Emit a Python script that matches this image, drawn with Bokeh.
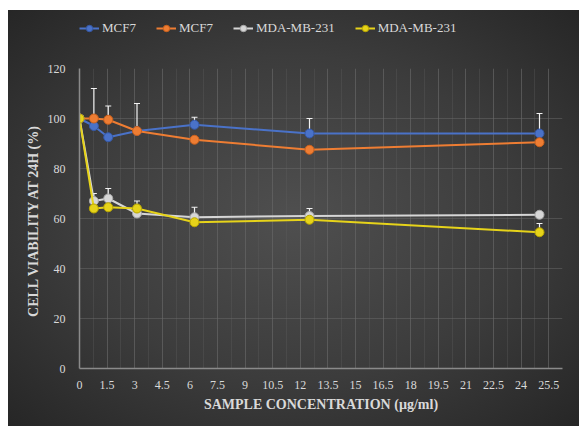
from bokeh.plotting import figure
from bokeh.layouts import column
from bokeh.models import (ColumnDataSource, Legend, LegendItem, Whisker, TeeHead,
                          FixedTicker, Range1d)
from bokeh.embed import file_html
from bokeh.resources import INLINE

# Sample concentrations (µg/ml)
conc = [0, 0.78125, 1.5625, 3.125, 6.25, 12.5, 25]

# Cell viability at 24 h (%)
mcf7_a = [100, 97, 92.5, 95, 97.5, 94, 94]
mcf7_b = [100, 100, 99.5, 95, 91.5, 87.5, 90.5]
mda_a = [100, 67, 68, 62, 60.5, 61, 61.5]
mda_b = [100, 64, 64.5, 64, 58.5, 59.5, 54.5]

# Upper error (plus bars)
mcf7_a_err = [0, 0, 0, 0, 3, 6, 8]
mcf7_b_err = [0, 12, 5.5, 11, 0, 0, 0]
mda_a_err = [0, 3, 4, 5, 4, 3, 0]
mda_b_err = [0, 0, 0, 0, 0, 0, 3.5]

x_ticks = [i * 1.5 for i in range(18)]
x_tick_labels = ["0", "1.5", "3", "4.5", "6", "7.5", "9", "10.5", "12", "13.5",
                 "15", "16.5", "18", "19.5", "21", "22.5", "24", "25.5"]
y_ticks = [0, 20, 40, 60, 80, 100, 120]

series = [
    ("MCF7", mcf7_a, mcf7_a_err, "#4a72c8", "#3458a8"),
    ("MCF7", mcf7_b, mcf7_b_err, "#ee7d33", "#c9601c"),
    ("MDA-MB-231", mda_a, mda_a_err, "#d6d6d6", "#a8a8a8"),
    ("MDA-MB-231", mda_b, mda_b_err, "#e6d31a", "#b8a600"),
]

FONT = "Liberation Serif"
TXT = "#d9d9d9"

def clear_fill(fig):
    fig.border_fill_alpha = 0
    fig.background_fill_alpha = 0
    fig.outline_line_color = None

# --- main chart ---
p = figure(width=571, height=368, output_backend="svg", toolbar_location=None,
           x_range=Range1d(0, 26.25), y_range=Range1d(0, 120),
           min_border_left=71, min_border_right=17, min_border_top=10,
           min_border_bottom=58)
clear_fill(p)

p.xaxis.ticker = FixedTicker(ticks=x_ticks, minor_ticks=[i * 0.75 for i in range(36)])
p.xaxis.major_label_overrides = {t: l for t, l in zip(x_ticks, x_tick_labels)}
p.yaxis.ticker = FixedTicker(ticks=y_ticks)
for ax in (p.xaxis, p.yaxis):
    ax.axis_line_color = "#8a8a8a"
    ax.axis_line_width = 1.5
    ax.major_tick_line_color = None
    ax.minor_tick_line_color = None
    ax.major_label_text_color = TXT
    ax.major_label_text_font = FONT
    ax.major_label_text_font_size = "12px"
    ax.axis_label_text_color = TXT
    ax.axis_label_text_font = FONT
    ax.axis_label_text_font_size = "14px"
    ax.axis_label_text_font_style = "bold"
p.xaxis.axis_label = "SAMPLE CONCENTRATION (µg/ml)"
p.yaxis.axis_label = "CELL VIABILITY  AT 24H (%)"
p.xaxis.major_label_standoff = 6
p.yaxis.major_label_standoff = 8
p.xaxis.axis_label_standoff = 5
p.yaxis.axis_label_standoff = 4

p.xgrid.grid_line_color = "#6a6a6a"
p.xgrid.grid_line_alpha = 0.5
p.xgrid.minor_grid_line_color = "#5e5e5e"
p.xgrid.minor_grid_line_alpha = 0.35
p.ygrid.grid_line_color = "#6a6a6a"
p.ygrid.grid_line_alpha = 0.5

sources = []
for name, vals, err, col, edge in series:
    src = ColumnDataSource(dict(x=conc, y=vals))
    sources.append(src)
    p.line("x", "y", source=src, line_color=col, line_width=2)
    p.scatter("x", "y", source=src, size=9, fill_color=col,
              line_color=edge, line_width=1)

# error bars on top of markers
for name, vals, err, col, edge in series:
    xs = [c for c, e in zip(conc, err) if e > 0]
    lo = [v for v, e in zip(vals, err) if e > 0]
    hi = [v + e for v, e in zip(vals, err) if e > 0]
    esrc = ColumnDataSource(dict(x=xs, lower=lo, upper=hi))
    p.add_layout(Whisker(base="x", lower="lower", upper="upper", source=esrc,
                         line_color="#f2f2f2", line_width=1.2,
                         upper_head=TeeHead(size=6, line_color="#f2f2f2", line_width=1.2),
                         lower_head=None))

# --- legend strip above the chart (its view range holds none of the data) ---
lg = figure(width=571, height=48, output_backend="svg", toolbar_location=None,
            x_range=Range1d(-20, -10), y_range=Range1d(-20, -10),
            x_axis_type=None, y_axis_type=None,
            min_border_left=71, min_border_right=17, min_border_top=0,
            min_border_bottom=0)
clear_fill(lg)
lg.grid.visible = False
items = []
for (name, vals, err, col, edge), src in zip(series, sources):
    ln = lg.line("x", "y", source=src, line_color=col, line_width=2)
    sc = lg.scatter("x", "y", source=src, size=9, fill_color=col,
                    line_color=edge, line_width=1)
    items.append(LegendItem(label=name, renderers=[ln, sc]))

legend = Legend(items=items, orientation="horizontal", location=(0, 22),
                padding=0, margin=0, spacing=20, label_standoff=3,
                glyph_width=20, glyph_height=16,
                label_text_color=TXT, label_text_font=FONT,
                label_text_font_size="13px",
                background_fill_alpha=0, border_line_alpha=0)
lg.add_layout(legend)

layout = column(lg, p, spacing=0)
layout.margin = (10, 0, 0, 8)
layout.styles = {"background": "radial-gradient(ellipse at 50% 50%, #4f4f4f 0%, #3c3c3c 55%, #262626 100%)"}

open("out.html", "w").write(file_html(layout, INLINE))
